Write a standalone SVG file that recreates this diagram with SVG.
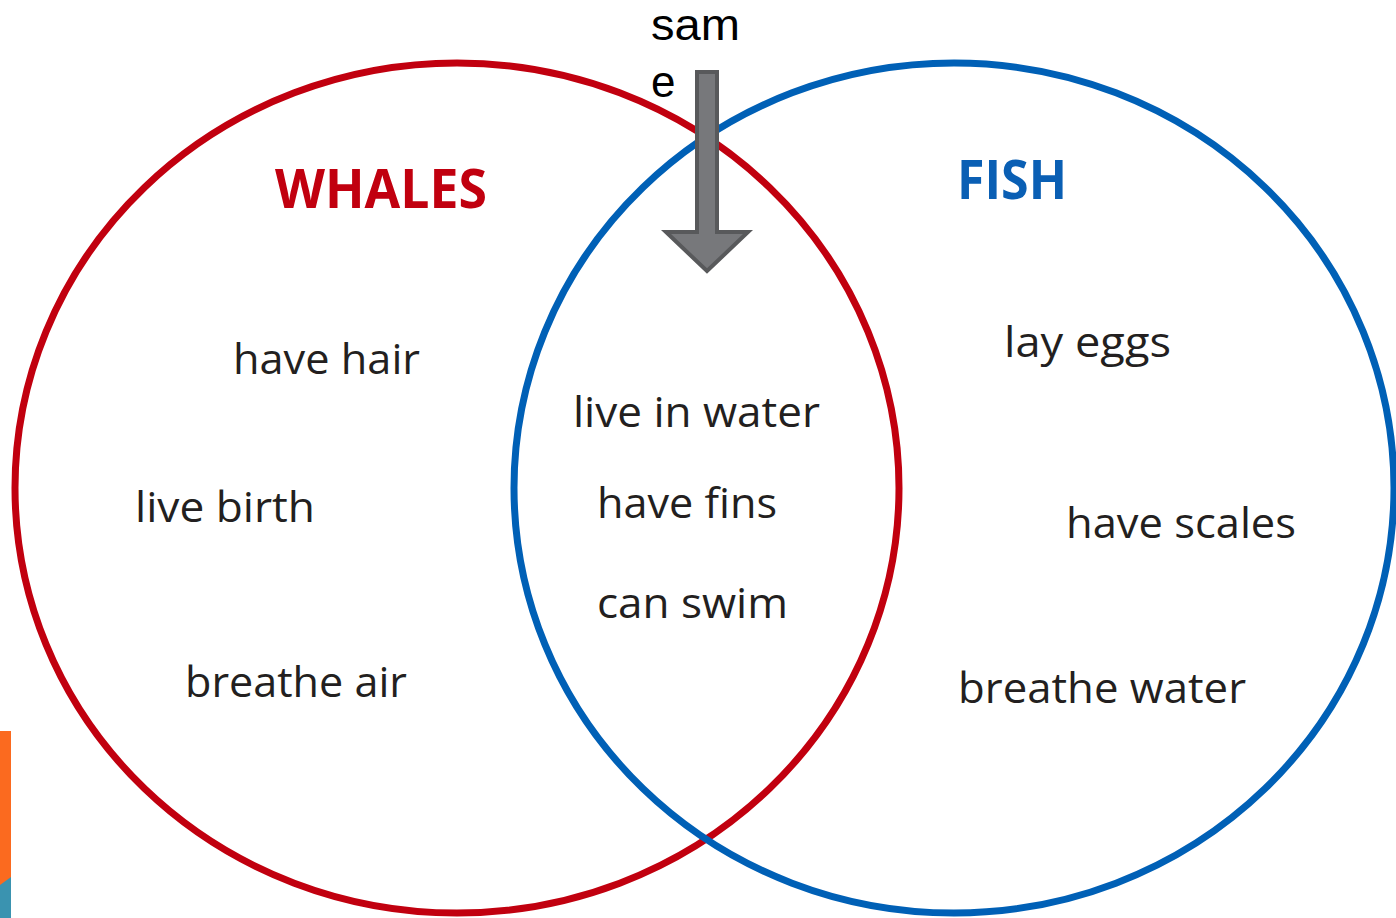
<svg xmlns="http://www.w3.org/2000/svg" width="1396" height="918" viewBox="0 0 1396 918">
<style>
.t{font-family:"Open Sans","Noto Sans","Liberation Sans",sans-serif;font-size:42px;fill:#231f20}
.h{font-family:"Open Sans","Noto Sans","Liberation Sans",sans-serif;font-size:54px;font-weight:bold}
.c{fill:none;stroke-width:7}
.s{font-family:"Liberation Sans",Arial,sans-serif;font-size:44px;fill:#000}
</style>
<rect width="1396" height="918" fill="#ffffff"/>
<g id="deco">
<rect x="0" y="731" width="11" height="187" fill="#fb6a1f"/>
<polygon points="0,885 11,877 11,918 0,918" fill="#3a93b0"/>
</g>
<g id="whales">
<ellipse class="c" cx="457" cy="488" rx="442" ry="425" stroke="#c1000f"/>
<text class="h" x="275" y="208" fill="#c1000f" textLength="212" lengthAdjust="spacingAndGlyphs">WHALES</text>
<text class="t" x="233" y="374" textLength="187" lengthAdjust="spacingAndGlyphs">have hair</text>
<text class="t" x="135" y="522" textLength="180" lengthAdjust="spacingAndGlyphs">live birth</text>
<text class="t" x="185" y="697" textLength="222" lengthAdjust="spacingAndGlyphs">breathe air</text>
</g>
<g id="fish">
<ellipse class="c" cx="954" cy="488" rx="440" ry="425" stroke="#0060b6"/>
<text class="h" x="957" y="199" fill="#0a5fb4" textLength="110" lengthAdjust="spacingAndGlyphs">FISH</text>
<text class="t" x="1004" y="357" textLength="167" lengthAdjust="spacingAndGlyphs">lay eggs</text>
<text class="t" x="1066" y="538" textLength="230" lengthAdjust="spacingAndGlyphs">have scales</text>
<text class="t" x="958" y="703" textLength="288" lengthAdjust="spacingAndGlyphs">breathe water</text>
</g>
<g id="same">
<text class="t" x="573" y="427" textLength="247" lengthAdjust="spacingAndGlyphs">live in water</text>
<text class="t" x="597" y="518" textLength="180" lengthAdjust="spacingAndGlyphs">have fins</text>
<text class="t" x="597" y="618" textLength="191" lengthAdjust="spacingAndGlyphs">can swim</text>
</g>
<g id="connectors">
<polygon points="697,72 717,72 717,232 748,232 707,271 666,232 697,232" fill="#77787b" stroke="#58595b" stroke-width="4" stroke-linejoin="miter"/>
</g>
<g id="label">
<text class="s" x="651" y="40" textLength="89" lengthAdjust="spacingAndGlyphs">sam</text>
<text class="s" x="651" y="97">e</text>
</g>
</svg>
